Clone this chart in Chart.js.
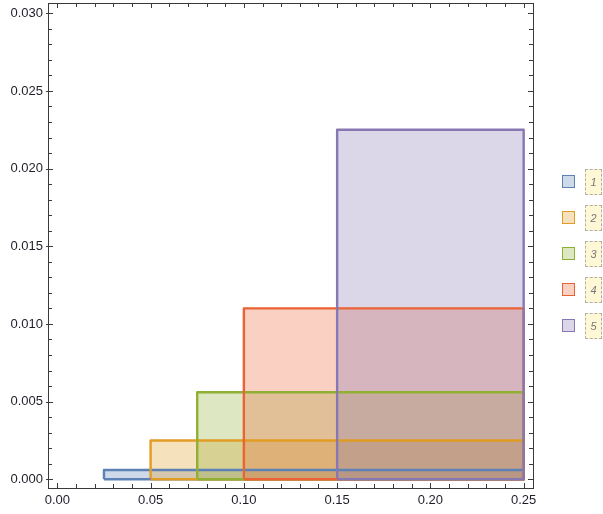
<!DOCTYPE html>
<html>
<head>
<meta charset="utf-8">
<script src="https://cdn.jsdelivr.net/npm/chart.js@4"></script>
<style>
  html, body { margin: 0; padding: 0; background: #fff; }
  #wrap { position: relative; width: 603px; height: 514px; }
  #c { position: absolute; left: 0; top: 0; }
  .lg-sq { position: absolute; width: 11px; height: 11px; border-width: 1.5px; border-style: solid; }
  .lg-lb { position: absolute; width: 15px; height: 24px; background: #fff8d6; border: 1px dashed #b4b0a4;
           font: italic 11px "Liberation Sans", Arial, sans-serif; color: #777; text-align: center; line-height: 24px; }
</style>
</head>
<body>
<div id="wrap">
  <canvas id="c" width="603" height="514"></canvas>
</div>
<script>
// ---- data ----
const seriesNames = ['1', '2', '3', '4', '5'];
const binStarts   = [0.025, 0.05, 0.075, 0.10, 0.15];
const binEnds     = [0.25, 0.25, 0.25, 0.25, 0.25];
const binHeights  = [0.0006, 0.0025, 0.0056, 0.011, 0.0225];
const xTickValues = [0, 0.05, 0.10, 0.15, 0.20, 0.25];
const xTickLabels = ['0.00', '0.05', '0.10', '0.15', '0.20', '0.25'];
const yTickValues = [0, 0.005, 0.010, 0.015, 0.020, 0.025, 0.030];
const yTickLabels = ['0.000', '0.005', '0.010', '0.015', '0.020', '0.025', '0.030'];
const colors = ['rgb(94,129,181)', 'rgb(225,156,36)', 'rgb(143,176,50)', 'rgb(235,98,53)', 'rgb(135,120,179)'];
const fills  = ['rgba(94,129,181,0.3)', 'rgba(225,156,36,0.3)', 'rgba(143,176,50,0.3)', 'rgba(235,98,53,0.3)', 'rgba(135,120,179,0.3)'];

const datasets = seriesNames.map((name, i) => ({
  label: name,
  data: [
    { x: binStarts[i], y: 0 },
    { x: binStarts[i], y: binHeights[i] },
    { x: binEnds[i], y: binHeights[i] },
    { x: binEnds[i], y: 0 }
  ],
  showLine: true,
  borderColor: colors[i],
  backgroundColor: fills[i],
  borderWidth: 2.4,
  borderJoinStyle: 'round',
  pointRadius: 0,
  fill: 'origin',
  order: seriesNames.length - i
}));
// bottom edges of each bar
seriesNames.forEach((name, i) => {
  datasets.push({
    label: name + ' base',
    data: [{ x: binStarts[i], y: 0 }, { x: binEnds[i], y: 0 }],
    showLine: true,
    borderColor: colors[i],
    borderWidth: 2.4,
    pointRadius: 0,
    fill: false,
    order: -i - 1
  });
});

const framePlugin = {
  id: 'frame',
  afterDraw(chart) {
    const ctx = chart.ctx, a = chart.chartArea;
    const xs = chart.scales.x, ys = chart.scales.y;
    ctx.save();
    ctx.strokeStyle = '#3a3a3a';
    ctx.lineWidth = 1;
    ctx.strokeRect(Math.round(a.left) + 0.5, Math.round(a.top) + 0.5,
                   Math.round(a.right - a.left), Math.round(a.bottom - a.top));
    ctx.beginPath();
    const xStep = xTickValues[1] - xTickValues[0];
    for (let k = 0; k <= (xTickValues.length - 1) * 5; k++) {
      const v = xTickValues[0] + k * xStep / 5;
      const px = Math.round(xs.getPixelForValue(v)) + 0.5;
      const len = (k % 5 === 0) ? 5 : 4;
      ctx.moveTo(px, a.bottom); ctx.lineTo(px, a.bottom - len);
      ctx.moveTo(px, a.top); ctx.lineTo(px, a.top + len);
    }
    const yStep = yTickValues[1] - yTickValues[0];
    for (let k = 0; k <= (yTickValues.length - 1) * 5; k++) {
      const v = yTickValues[0] + k * yStep / 5;
      const py = Math.round(ys.getPixelForValue(v)) + 0.5;
      const major = k % 5 === 0;
      ctx.moveTo(a.left - (major ? 2 : 0), py); ctx.lineTo(a.left + (major ? 5 : 4), py);
      ctx.moveTo(a.right, py); ctx.lineTo(a.right - (major ? 5 : 4), py);
    }
    ctx.stroke();
    ctx.fillStyle = '#1e1e2a';
    ctx.font = '13px "Liberation Sans", Arial, sans-serif';
    ctx.textAlign = 'center'; ctx.textBaseline = 'middle';
    xTickValues.forEach((v, i) => ctx.fillText(xTickLabels[i], xs.getPixelForValue(v), a.bottom + 12));
    ctx.textAlign = 'right';
    yTickValues.forEach((v, i) => ctx.fillText(yTickLabels[i], a.left - 5, ys.getPixelForValue(v)));
    ctx.restore();
  }
};

new Chart(document.getElementById('c'), {
  type: 'scatter',
  data: { datasets },
  options: {
    responsive: false,
    animation: false,
    layout: { padding: { left: 48, right: 70, top: 3, bottom: 26 } },
    plugins: { legend: { display: false }, tooltip: { enabled: false },
               filler: { drawTime: 'beforeDatasetsDraw' } },
    scales: {
      x: { type: 'linear', min: -0.005, max: 0.255, display: false },
      y: { type: 'linear', min: -0.00056, max: 0.03066, display: false }
    }
  },
  plugins: [framePlugin]
});

// HTML legend
const wrap = document.getElementById('wrap');
seriesNames.forEach((name, i) => {
  const cy = 182 + i * 36;
  const sq = document.createElement('div');
  sq.className = 'lg-sq';
  sq.style.left = '562px'; sq.style.top = (cy - 7) + 'px';
  sq.style.borderColor = colors[i]; sq.style.background = fills[i];
  wrap.appendChild(sq);
  const lb = document.createElement('div');
  lb.className = 'lg-lb';
  lb.style.left = '585px'; lb.style.top = (cy - 13) + 'px';
  lb.textContent = name;
  wrap.appendChild(lb);
});
</script>
</body>
</html>
